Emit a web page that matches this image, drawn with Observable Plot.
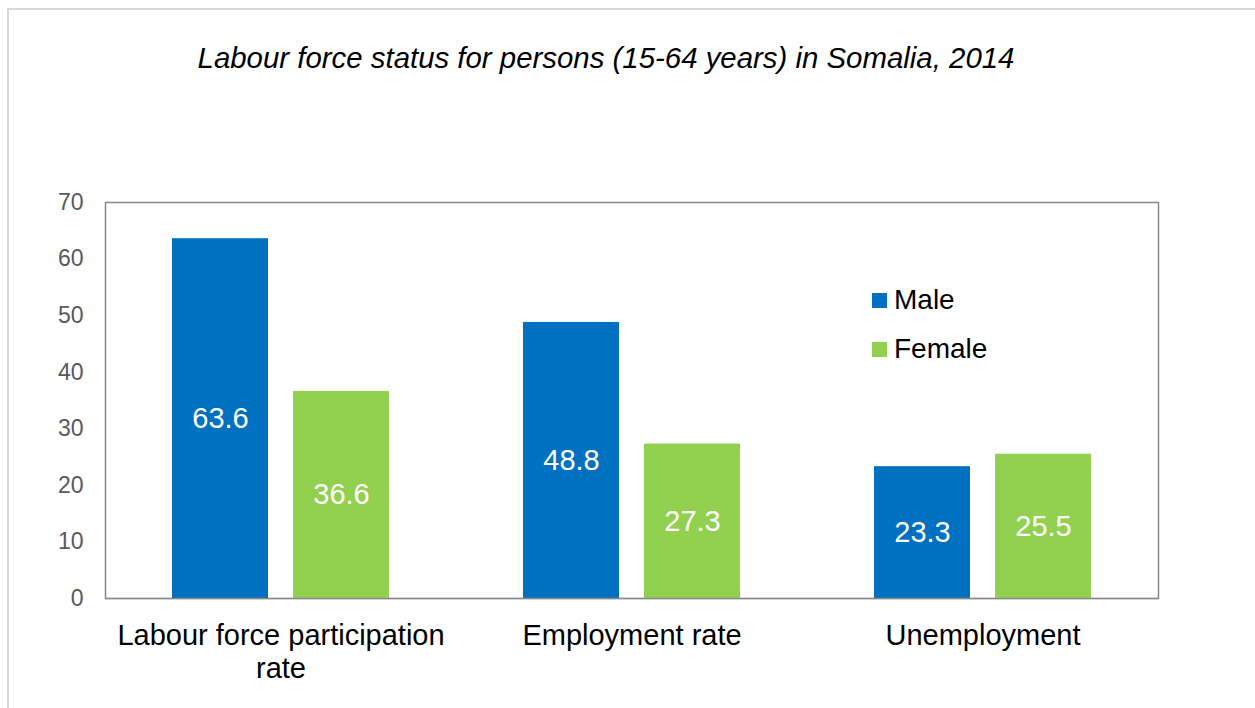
<!DOCTYPE html>
<html>
<head>
<meta charset="utf-8">
<script src="https://cdn.jsdelivr.net/npm/d3@7"></script>
<script src="https://cdn.jsdelivr.net/npm/@observablehq/plot@0.6"></script>
<style>
  html, body { margin: 0; padding: 0; background: #fff; }
  #wrap { position: relative; width: 1255px; height: 708px; overflow: hidden; font-family: "Liberation Sans", Arial, sans-serif; }
  #border { position: absolute; left: 7px; top: 8px; width: 1300px; height: 800px; border-top: 2px solid #d9d9d9; border-left: 2px solid #d9d9d9; }
  #title { position: absolute; left: 0; width: 1212px; top: 41px; text-align: center; font-style: italic; font-size: 29.4px; color: #000; }
  #legend { position: absolute; left: 872px; top: 284px; font-size: 28px; color: #000; }
  #legend .item { display: flex; align-items: center; height: 32px; margin-bottom: 17px; }
  #legend .sw { width: 15px; height: 15px; margin-right: 7px; }
  #chart { position: absolute; left: 0; top: 0; }
</style>
</head>
<body>
<div id="wrap">
  <div id="border"></div>
  <div id="chart"></div>
  <div id="title">Labour force status for persons (15-64 years) in Somalia, 2014</div>
  <div id="legend"></div>
</div>
<script>
const categories = ["Labour force participation rate", "Employment rate", "Unemployment"];
const categoryLabels = ["Labour force participation\nrate", "Employment rate", "Unemployment"];
const series = ["Male", "Female"];
const maleValues = [63.6, 48.8, 23.3];
const femaleValues = [36.6, 27.3, 25.5];
const seriesColors = ["#0070C0", "#92D050"];
const yTicks = [0, 10, 20, 30, 40, 50, 60, 70];

const data = [];
categories.forEach((c, i) => {
  data.push({cat: c, sex: "Male", value: maleValues[i]});
  data.push({cat: c, sex: "Female", value: femaleValues[i]});
});

const plot = Plot.plot({
  width: 1255,
  height: 708,
  marginLeft: 105,
  marginRight: 97,
  marginTop: 202,
  marginBottom: 110,
  style: {fontFamily: "'Liberation Sans', Arial, sans-serif", background: "transparent"},
  fx: {domain: categories, padding: 0, label: null},
  x: {domain: series, paddingInner: 0.2066, paddingOuter: 0.5537, axis: null},
  y: {domain: [0, 70], label: null},
  color: {domain: series, range: seriesColors},
  marks: [
    Plot.ruleY([0], {stroke: "#d9d9d9", strokeWidth: 2}),
    Plot.barY(data, {fx: "cat", x: "sex", y: "value", fill: "sex"}),
    Plot.text(data, {fx: "cat", x: "sex", y: d => d.value / 2, text: d => d.value.toFixed(1), fill: "white", fontSize: 29}),
    Plot.frame({facet: "super", stroke: "#898989", strokeWidth: 1.5}),
    Plot.axisY({ticks: yTicks, tickSize: 0, tickPadding: 22, fontSize: 23, fill: "#595959", label: null}),
    Plot.axisFx({anchor: "bottom", tickSize: 0, tickPadding: 23, fontSize: 29, fill: "#000", label: null, lineHeight: 1.14,
      tickFormat: d => categoryLabels[categories.indexOf(d)]})
  ]
});
document.getElementById("chart").appendChild(plot);

const legend = document.getElementById("legend");
series.forEach((s, i) => {
  const item = document.createElement("div");
  item.className = "item";
  item.innerHTML = `<div class="sw" style="background:${seriesColors[i]}"></div><span>${s}</span>`;
  legend.appendChild(item);
});
</script>
</body>
</html>
